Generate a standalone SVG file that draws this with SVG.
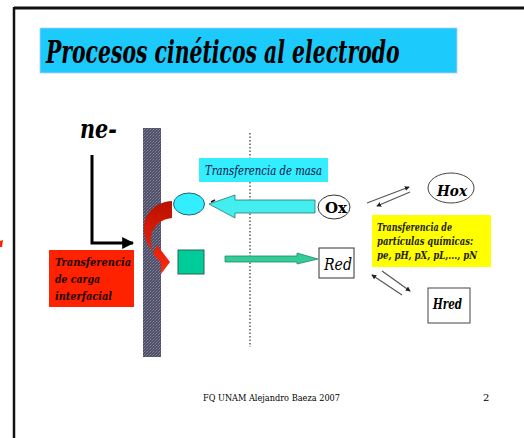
<svg xmlns="http://www.w3.org/2000/svg" width="524" height="438" viewBox="0 0 524 438">
<defs>
<style>
text{font-family:"DejaVu Serif","Liberation Serif",serif;}
.bi{font-weight:bold;font-style:italic;}
.it{font-style:italic;}
.thin{stroke:#555;stroke-width:1.2;fill:none;}
</style>
<marker id="sm" viewBox="0 0 6 6" refX="5" refY="3" markerWidth="5" markerHeight="5" orient="auto" markerUnits="userSpaceOnUse">
<path d="M0,0 L6,3 L0,6 Z" fill="#222"/>
</marker>
<marker id="blk" viewBox="0 0 10 10" refX="9" refY="5" markerWidth="12" markerHeight="12" orient="auto" markerUnits="userSpaceOnUse">
<path d="M0,0 L10,5 L0,10 Z" fill="#000"/>
</marker>
<pattern id="tex" width="3" height="3" patternUnits="userSpaceOnUse">
<rect width="3" height="3" fill="#4e4e66"/>
<rect x="0" y="0" width="1" height="1" fill="#8a8aa0"/>
<rect x="2" y="1" width="1" height="1" fill="#7a7a92"/>
<rect x="1" y="2" width="1" height="1" fill="#6c6c84"/>
</pattern>
<linearGradient id="redg" x1="0" y1="0" x2="0" y2="1">
<stop offset="0" stop-color="#b81000"/>
<stop offset="1" stop-color="#ff2a10"/>
</linearGradient>
</defs>
<rect width="524" height="438" fill="#fff"/>
<!-- frame -->
<line x1="14" y1="8" x2="524" y2="8" stroke="#111" stroke-width="3"/>
<line x1="14" y1="7" x2="14" y2="438" stroke="#111" stroke-width="2.5"/>
<path d="M0,241 L3,240 L2,247 L0,247 Z" fill="#ff2200"/>

<g id="title">
<rect x="40" y="28" width="417" height="45" fill="#1ccbfc" stroke="#b8c8ff" stroke-width="0.8"/>
<text class="bi" x="0" y="0" font-size="31" transform="translate(46,63) scale(0.68,1)" textLength="520" lengthAdjust="spacingAndGlyphs">Procesos cinéticos al electrodo</text>
</g>

<g id="electrode">
<rect x="143" y="128" width="18" height="229" fill="url(#tex)"/>
</g>

<line x1="250" y1="133" x2="250" y2="347" stroke="#333" stroke-width="1.2" stroke-dasharray="1.5,2"/>

<g id="ne">
<text class="bi" x="80" y="138" font-size="26" textLength="37" lengthAdjust="spacingAndGlyphs">ne-</text>
</g>

<g id="carga">
<rect x="49" y="250" width="85" height="57" fill="#ff2200"/>
<text class="bi" font-size="11.5" fill="#1a0000">
<tspan x="55" y="266" textLength="76" lengthAdjust="spacingAndGlyphs">Transferencia</tspan>
<tspan x="55" y="283" textLength="45" lengthAdjust="spacingAndGlyphs">de carga</tspan>
<tspan x="55" y="300" textLength="57" lengthAdjust="spacingAndGlyphs">interfacial</tspan>
</text>
</g>

<g id="ox-surface">
<ellipse cx="189" cy="204" rx="15.5" ry="11" fill="#33eeff" stroke="#226677" stroke-width="1"/>
</g>
<g id="red-surface">
<rect x="178" y="250" width="26" height="24" fill="#00cc99" stroke="#226655" stroke-width="1"/>
</g>

<g id="masa">
<rect x="199" y="158" width="129" height="24" fill="#33eeff"/>
<text class="it" x="205" y="175" font-size="12" fill="#114" textLength="117" lengthAdjust="spacingAndGlyphs">Transferencia de masa</text>
</g>

<g id="ox">
<ellipse cx="334" cy="207" rx="16" ry="12" fill="#fff" stroke="#333" stroke-width="1"/>
<text x="325" y="213" font-size="15" font-weight="bold" textLength="22" lengthAdjust="spacingAndGlyphs">Ox</text>
</g>
<g id="red">
<rect x="319" y="248" width="35" height="30" fill="#fff" stroke="#333" stroke-width="1"/>
<text class="it" x="324" y="270" font-size="16" textLength="28" lengthAdjust="spacingAndGlyphs">Red</text>
</g>
<g id="hox">
<ellipse cx="451" cy="188" rx="23" ry="15" fill="#fff" stroke="#444" stroke-width="1"/>
<text class="bi" x="437" y="196" font-size="15" textLength="30" lengthAdjust="spacingAndGlyphs">Hox</text>
</g>
<g id="hred">
<rect x="428" y="288" width="42" height="35" fill="#fff" stroke="#444" stroke-width="1"/>
<text class="bi" x="433" y="309" font-size="14" textLength="29" lengthAdjust="spacingAndGlyphs">Hred</text>
</g>
<g id="quimicas">
<rect x="372" y="215" width="119" height="52" fill="#ffff00"/>
<text class="bi" font-size="10.5" fill="#221">
<tspan x="377" y="231" textLength="75" lengthAdjust="spacingAndGlyphs">Transferencia de</tspan>
<tspan x="377" y="245" textLength="96" lengthAdjust="spacingAndGlyphs">partículas químicas:</tspan>
<tspan x="377" y="259" textLength="100" lengthAdjust="spacingAndGlyphs">pe, pH, pX, pL,..., pN</tspan>
</text>
</g>

<g id="connectors">
<polyline points="92,155 92,243 133,243" fill="none" stroke="#000" stroke-width="3" marker-end="url(#blk)"/>
<path d="M172,201 C155,202 143,214 144,230 C145,241 149,248 154,252 L157,245 L170,262 L161,274 L161,262 C152,256 150,246 151,236 C153,226 161,219 172,218 Z" fill="url(#redg)"/>
<path d="M315,200 L235,200 L235,195 L209,204 L235,218 L235,213 L315,213 Z" fill="#44eeee" stroke="#227777" stroke-width="0.8"/>
<line x1="211" y1="202" x2="215" y2="200" stroke="#111" stroke-width="1.5"/>
<path d="M225,256 L297,256 L297,253 L318,259 L297,264 L297,262 L225,262 Z" fill="#33cc99" stroke="#228866" stroke-width="0.8"/>
<line class="thin" x1="367" y1="203" x2="409" y2="187" marker-end="url(#sm)"/>
<line class="thin" x1="410" y1="192" x2="377" y2="206" marker-end="url(#sm)"/>
<line class="thin" x1="402" y1="295" x2="372" y2="275" marker-end="url(#sm)"/>
<line class="thin" x1="382" y1="271" x2="410" y2="291" marker-end="url(#sm)"/>
</g>

<g id="footer">
<text x="203" y="401" font-size="9.5" textLength="137" lengthAdjust="spacingAndGlyphs">FQ UNAM Alejandro Baeza 2007</text>
<text x="483" y="401" font-size="10">2</text>
</g>
</svg>
